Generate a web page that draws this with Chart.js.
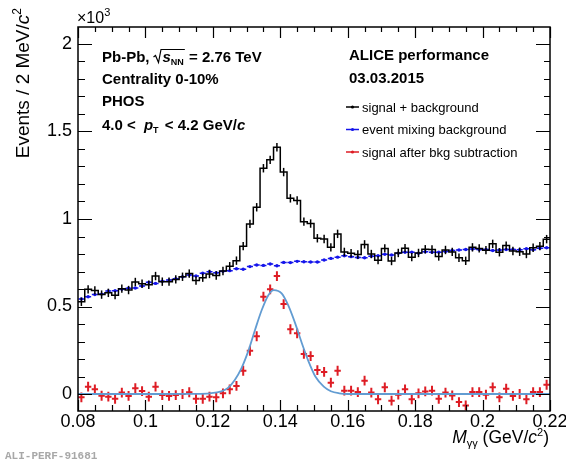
<!DOCTYPE html>
<html>
<head>
<meta charset="utf-8">
<script src="https://cdn.jsdelivr.net/npm/chart.js@4.4.1/dist/chart.umd.min.js"></script>
<style>
html, body { margin: 0; padding: 0; background: #fff; }
canvas { display: block; }
</style>
</head>
<body>
<canvas id="c" width="566" height="464"></canvas>
<script>
// bin centres of the M_gg histogram (GeV/c^2), 2 MeV bins
const massBins = [
  0.081, 0.083, 0.085, 0.087, 0.089, 0.091, 0.093, 0.095, 0.097, 0.099,
  0.101, 0.103, 0.105, 0.107, 0.109, 0.111, 0.113, 0.115, 0.117, 0.119,
  0.121, 0.123, 0.125, 0.127, 0.129, 0.131, 0.133, 0.135, 0.137, 0.139,
  0.141, 0.143, 0.145, 0.147, 0.149, 0.151, 0.153, 0.155, 0.157, 0.159,
  0.161, 0.163, 0.165, 0.167, 0.169, 0.171, 0.173, 0.175, 0.177, 0.179,
  0.181, 0.183, 0.185, 0.187, 0.189, 0.191, 0.193, 0.195, 0.197, 0.199,
  0.201, 0.203, 0.205, 0.207, 0.209, 0.211, 0.213, 0.215, 0.217, 0.219
];
const binHalf = 0.001;

// signal + background (x10^3)
const sigBkg = [
  0.527, 0.598, 0.592, 0.568, 0.578, 0.565, 0.602, 0.594, 0.640, 0.630,
  0.624, 0.674, 0.642, 0.642, 0.655, 0.670, 0.688, 0.649, 0.665, 0.686,
  0.677, 0.703, 0.730, 0.762, 0.845, 0.972, 1.067, 1.290, 1.338, 1.410,
  1.268, 1.118, 1.106, 0.985, 0.974, 0.890, 0.886, 0.838, 0.915, 0.812,
  0.805, 0.797, 0.855, 0.800, 0.765, 0.832, 0.760, 0.806, 0.833, 0.782,
  0.806, 0.827, 0.826, 0.786, 0.823, 0.812, 0.779, 0.761, 0.838, 0.832,
  0.822, 0.858, 0.810, 0.848, 0.817, 0.813, 0.800, 0.836, 0.845, 0.885
];

// event mixing background (x10^3)
const mixBkg = [
  0.543, 0.556, 0.568, 0.571, 0.589, 0.590, 0.598, 0.604, 0.606, 0.617,
  0.638, 0.632, 0.644, 0.651, 0.659, 0.670, 0.680, 0.674, 0.690, 0.699,
  0.693, 0.701, 0.705, 0.716, 0.713, 0.728, 0.737, 0.735, 0.743, 0.733,
  0.752, 0.751, 0.758, 0.756, 0.754, 0.754, 0.766, 0.775, 0.782, 0.790,
  0.785, 0.780, 0.779, 0.787, 0.790, 0.798, 0.794, 0.805, 0.810, 0.810,
  0.804, 0.813, 0.810, 0.810, 0.815, 0.820, 0.823, 0.826, 0.829, 0.826,
  0.826, 0.820, 0.823, 0.826, 0.826, 0.825, 0.830, 0.825, 0.833, 0.836
];

// signal after bkg subtraction (x10^3)
const signal = [
  -0.019, 0.042, 0.027, -0.010, -0.015, -0.027, 0.008, -0.011, 0.033, 0.017,
  -0.015, 0.042, -0.006, -0.011, -0.006, 0.000, 0.010, -0.027, -0.027, -0.015,
  -0.019, 0.004, 0.027, 0.046, 0.133, 0.247, 0.330, 0.556, 0.598, 0.674,
  0.514, 0.370, 0.347, 0.229, 0.217, 0.137, 0.126, 0.065, 0.133, 0.019,
  0.019, 0.011, 0.076, 0.008, -0.030, 0.038, -0.038, -0.004, 0.027, -0.030,
  0.004, 0.015, 0.019, -0.027, 0.008, -0.008, -0.046, -0.065, 0.011, 0.011,
  -0.004, 0.038, -0.019, 0.030, -0.011, 0.000, -0.030, 0.011, 0.011, 0.053
];

// error sizes
const sigBkgErr = 0.024;
const mixErr = 0.004;
const signalErr = 0.028;

// fitted peak
const fitMass = [0.08, 0.1, 0.115, 0.119, 0.1225, 0.1245, 0.1265, 0.1285, 0.1305, 0.1325, 0.1345, 0.1365,
  0.1381, 0.1404, 0.1424, 0.1444, 0.1464, 0.1484, 0.1504, 0.1529, 0.155, 0.1575, 0.16, 0.19, 0.22];
const fitVal = [0.0, 0.0, 0.001, 0.004, 0.015, 0.035, 0.08, 0.148, 0.245, 0.366, 0.48, 0.566,
  0.594, 0.575, 0.505, 0.405, 0.29, 0.185, 0.1, 0.042, 0.016, 0.004, 0.0, 0.0, 0.0];

// axis setup
const xMin = 0.08, xMax = 0.22, xStep = 0.02, xMinor = 0.005;
const yMin = -0.097, yMax = 2.097, yStep = 0.5, yMinor = 0.1;

const legendLabels = ['signal + background', 'event mixing background', 'signal after bkg subtraction'];

const FONT = "'Liberation Sans', Arial, Helvetica, sans-serif";
const BLUE = 'rgb(20,20,235)';
const RED = 'rgb(222,28,36)';
const FITC = 'rgb(98,156,210)';

const pts = (vals) => massBins.map((m, i) => ({ x: m, y: vals[i] }));
const histPts = massBins.map((m, i) => ({ x: m - binHalf, y: sigBkg[i] }));
histPts.push({ x: massBins[massBins.length - 1] + binHalf, y: sigBkg[sigBkg.length - 1] });

// error bars through the chart scales
const errorBars = {
  id: 'errorBars',
  afterDatasetDraw(chart, args) {
    const ds = chart.data.datasets[args.index];
    if (!ds.errY && !ds.errX) return;
    const ctx = chart.ctx, xs = chart.scales.x, ys = chart.scales.y;
    ctx.save();
    ctx.strokeStyle = ds.barColor;
    ctx.lineWidth = ds.barWidth;
    ds.data.forEach(p => {
      const px = xs.getPixelForValue(p.x), py = ys.getPixelForValue(p.y);
      ctx.beginPath();
      if (ds.errY) {
        ctx.moveTo(px, ys.getPixelForValue(p.y - ds.errY));
        ctx.lineTo(px, ys.getPixelForValue(p.y + ds.errY));
      }
      if (ds.errX) {
        ctx.moveTo(xs.getPixelForValue(p.x - ds.errX), py);
        ctx.lineTo(xs.getPixelForValue(p.x + ds.errX), py);
      }
      ctx.stroke();
    });
    ctx.restore();
  }
};

function rich(ctx, x, y, parts) {
  parts.forEach(p => {
    ctx.font = p.f;
    ctx.fillText(p.t, x, y + (p.dy || 0));
    x += ctx.measureText(p.t).width + (p.gap || 0);
  });
  return x;
}
function richWidth(ctx, parts) {
  let w = 0;
  parts.forEach(p => { ctx.font = p.f; w += ctx.measureText(p.t).width + (p.gap || 0); });
  return w;
}

// ROOT style frame, inward ticks and texts
const rootFrame = {
  id: 'rootFrame',
  afterDraw(chart) {
    const ctx = chart.ctx, a = chart.chartArea, xs = chart.scales.x, ys = chart.scales.y;
    ctx.save();
    ctx.strokeStyle = '#000';
    ctx.lineWidth = 1.5;
    ctx.strokeRect(a.left, a.top, a.right - a.left, a.bottom - a.top);

    ctx.lineWidth = 1.2;
    ctx.beginPath();
    const nx = Math.round((xMax - xMin) / xMinor);
    for (let k = 0; k <= nx; k++) {
      const px = Math.round(xs.getPixelForValue(xMin + k * xMinor)) + 0.5;
      const major = k % Math.round(xStep / xMinor) === 0;
      const lb = major ? 11 : 6, lt = major ? 11 : 5;
      ctx.moveTo(px, a.bottom); ctx.lineTo(px, a.bottom - lb);
      ctx.moveTo(px, a.top); ctx.lineTo(px, a.top + lt);
    }
    const ny = Math.round(2 / yMinor);
    for (let k = 0; k <= ny; k++) {
      const py = Math.round(ys.getPixelForValue(k * yMinor)) + 0.5;
      const major = k % Math.round(yStep / yMinor) === 0;
      const ll = major ? 14 : 7, lr = major ? 14 : 6;
      ctx.moveTo(a.left, py); ctx.lineTo(a.left + ll, py);
      ctx.moveTo(a.right, py); ctx.lineTo(a.right - lr, py);
    }
    ctx.stroke();

    ctx.fillStyle = '#000';
    ctx.textBaseline = 'alphabetic';
    ctx.textAlign = 'left';

    // x10^3
    rich(ctx, 77, 23, [{ t: '\u00d710', f: `16px ${FONT}` }, { t: '3', f: `11px ${FONT}`, dy: -7 }]);

    // left text block
    const B = `bold 15px ${FONT}`;
    let x = rich(ctx, 102, 62, [{ t: 'Pb-Pb,', f: B }]);
    x += 4;
    ctx.lineWidth = 1.2;
    ctx.beginPath();
    ctx.moveTo(x, 57); ctx.lineTo(x + 2, 55.5); ctx.lineTo(x + 5, 62.5); ctx.lineTo(x + 7.5, 49.5);
    const x2 = rich(ctx, x + 9, 62, [{ t: 's', f: `italic bold 15px ${FONT}` }, { t: 'NN', f: `bold 9px ${FONT}`, dy: 3 }]);
    ctx.lineTo(x2 + 1, 49.5);
    ctx.stroke();
    rich(ctx, x2 + 1, 62, [{ t: ' = 2.76 TeV', f: B }]);
    rich(ctx, 102, 84, [{ t: 'Centrality 0-10%', f: B }]);
    rich(ctx, 102, 106, [{ t: 'PHOS', f: B }]);
    rich(ctx, 102, 130, [
      { t: '4.0 < ', f: B, gap: 4 },
      { t: 'p', f: `italic bold 15px ${FONT}` },
      { t: 'T', f: `bold 9px ${FONT}`, dy: 3, gap: 2 },
      { t: ' < 4.2 GeV/', f: B },
      { t: 'c', f: `italic bold 15px ${FONT}` }
    ]);

    // right text block
    rich(ctx, 349, 60, [{ t: 'ALICE performance', f: B }]);
    rich(ctx, 349, 83, [{ t: '03.03.2015', f: B }]);

    const legCol = ['#000', BLUE, RED];
    legendLabels.forEach((lab, i) => {
      const ly = 107 + i * 22.5;
      ctx.strokeStyle = legCol[i];
      ctx.fillStyle = legCol[i];
      ctx.lineWidth = 1.5;
      ctx.beginPath(); ctx.moveTo(346, ly); ctx.lineTo(359, ly); ctx.stroke();
      ctx.beginPath(); ctx.arc(352.5, ly, 1.6, 0, Math.PI * 2); ctx.fill();
      ctx.fillStyle = '#000';
      rich(ctx, 362, ly + 4.5, [{ t: lab, f: `13px ${FONT}` }]);
    });

    // x title
    const xt = [
      { t: 'M', f: `italic 17.5px ${FONT}` },
      { t: '\u03b3\u03b3', f: `11px ${FONT}`, dy: 4 },
      { t: ' (GeV/', f: `17.5px ${FONT}` },
      { t: 'c', f: `italic 17.5px ${FONT}` },
      { t: '2', f: `11px ${FONT}`, dy: -7 },
      { t: ')', f: `17.5px ${FONT}` }
    ];
    rich(ctx, 549 - richWidth(ctx, xt), 443, xt);

    // y title
    const yt = [
      { t: 'Events / 2 MeV/', f: `19px ${FONT}` },
      { t: 'c', f: `italic 19px ${FONT}` },
      { t: '2', f: `12px ${FONT}`, dy: -8 }
    ];
    ctx.save();
    ctx.translate(29, 8);
    ctx.rotate(-Math.PI / 2);
    rich(ctx, -richWidth(ctx, yt), 0, yt);
    ctx.restore();

    // tag
    ctx.fillStyle = '#a8a8a8';
    rich(ctx, 5, 459, [{ t: 'ALI-PERF-91681', f: `bold 11px 'Liberation Mono', 'DejaVu Sans Mono', monospace` }]);
    ctx.restore();
  }
};

const ctx = document.getElementById('c').getContext('2d');
const chart = new Chart(ctx, {
  type: 'line',
  data: {
    datasets: [
      {
        label: legendLabels[0],
        data: histPts,
        stepped: 'before',
        borderColor: '#000',
        borderWidth: 1.5,
        pointRadius: 0,
        fill: false
      },
      {
        label: 'signal + background errors',
        data: pts(sigBkg),
        showLine: false,
        pointRadius: 0,
        errY: sigBkgErr,
        barColor: '#000',
        barWidth: 1.5
      },
      {
        label: legendLabels[1],
        data: pts(mixBkg),
        showLine: false,
        pointRadius: 1.7,
        pointBorderWidth: 0,
        pointBackgroundColor: BLUE,
        errX: 0.0009,
        errY: mixErr,
        barColor: BLUE,
        barWidth: 1.5
      },
      {
        label: 'fit',
        data: fitMass.map((m, i) => ({ x: m, y: fitVal[i] })),
        borderColor: FITC,
        borderWidth: 1.8,
        pointRadius: 0,
        cubicInterpolationMode: 'monotone',
        fill: false
      },
      {
        label: legendLabels[2],
        data: pts(signal),
        showLine: false,
        pointRadius: 0,
        errX: 0.00095,
        errY: signalErr,
        barColor: RED,
        barWidth: 2
      }
    ]
  },
  options: {
    responsive: false,
    animation: false,
    events: [],
    layout: { padding: { top: 27, right: 16, left: 0, bottom: 0 } },
    plugins: { legend: { display: false }, tooltip: { enabled: false } },
    scales: {
      x: {
        type: 'linear',
        min: xMin,
        max: xMax,
        afterFit: (s) => { s.height = 53; s.paddingLeft = 0; s.paddingRight = 0; },
        grid: { display: false, drawTicks: false },
        border: { display: false },
        ticks: {
          stepSize: xStep,
          includeBounds: false,
          autoSkip: false,
          maxRotation: 0,
          padding: 0,
          color: '#000',
          font: { family: FONT, size: 18 },
          callback: (v) => String(Math.round(v * 1000) / 1000)
        }
      },
      y: {
        type: 'linear',
        min: yMin,
        max: yMax,
        afterFit: (s) => { s.width = 78; s.paddingTop = 0; s.paddingBottom = 0; },
        grid: { display: false, drawTicks: false },
        border: { display: false },
        ticks: {
          stepSize: yStep,
          includeBounds: false,
          autoSkip: false,
          padding: 6,
          color: '#000',
          font: { family: FONT, size: 18 },
          callback: (v) => String(Math.round(v * 10) / 10)
        }
      }
    }
  },
  plugins: [errorBars, rootFrame]
});
</script>
</body>
</html>
